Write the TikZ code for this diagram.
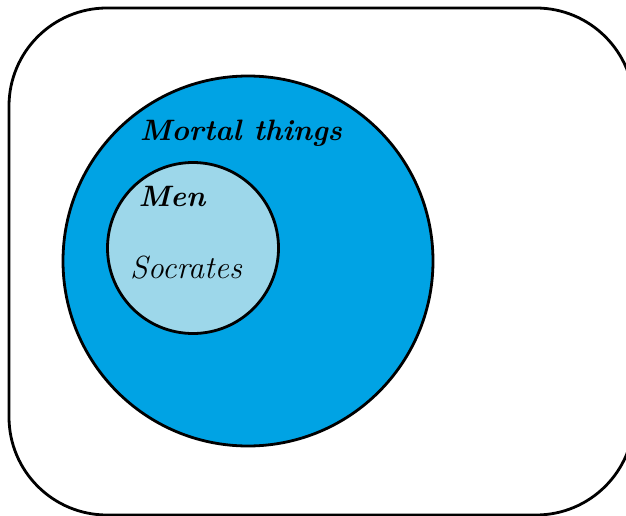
\documentclass[tikz,border=0pt]{standalone}
\usepackage{tikz}
\definecolor{mortalblue}{RGB}{0,163,228}
\definecolor{menblue}{RGB}{157,215,234}
\tikzset{
	set/.style={circle, draw=black, line width=2.8pt, inner sep=0pt},
	setlabel/.style={font=\fontsize{32}{38}\selectfont\itshape, inner sep=0pt},
	boldlabel/.style={font=\fontsize{29.5}{35}\selectfont\itshape\bfseries, inner sep=0pt}
}
\begin{document}
\begin{tikzpicture}[x=1pt, y=-1pt]
			\useasboundingbox (0,0) rectangle (626,516);
			\begin{scope}
				\clip (0,0) rectangle (626,516);
				\draw[line width=2.8pt, rounded corners=98pt] (9,8) rectangle (634,515);
			\end{scope}
			\node[set, fill=mortalblue, minimum size=370pt] (mortal) at (248,261) {};
			\node[set, fill=menblue, minimum size=171pt] (men) at (193,248) {};
			\node[boldlabel] (mortallabel) at (241,133) {Mortal things};
			\node[boldlabel] (menlabel) at (172,196) {Men};
			\node[setlabel] (socrates) at (186,268) {Socrates};
		\end{tikzpicture}
\end{document}
